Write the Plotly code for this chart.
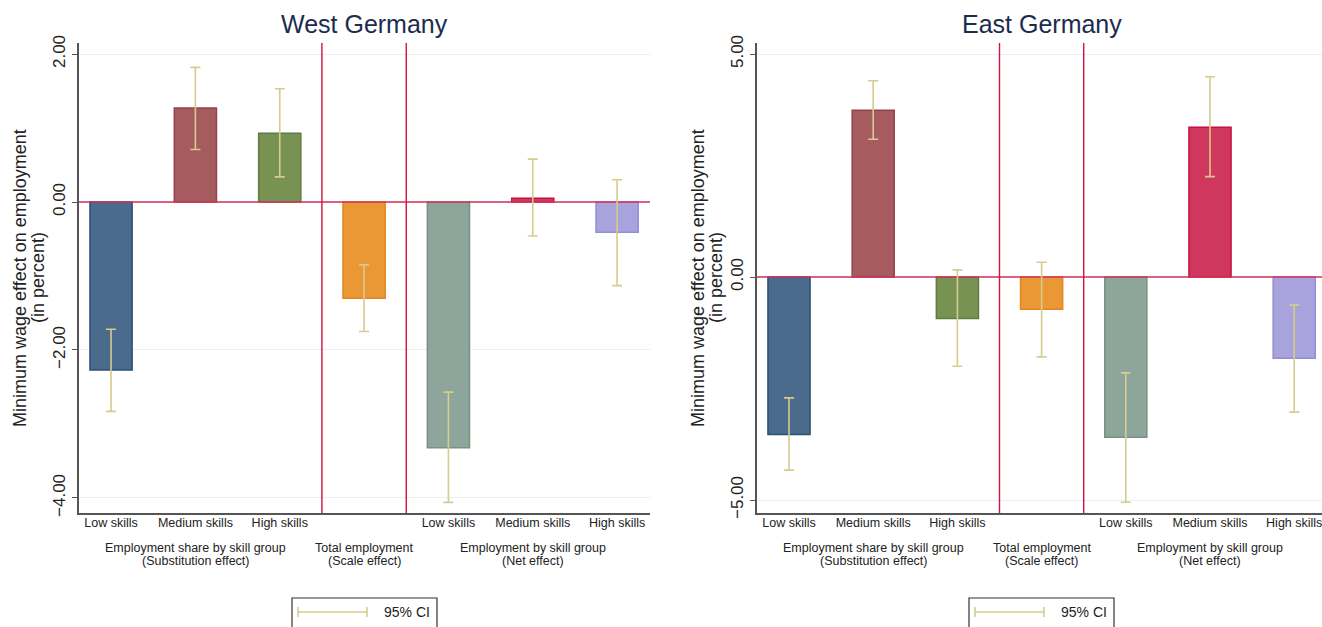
import plotly.graph_objects as go

# ---------------- data ----------------
positions = [1, 2, 3, 4, 5, 6, 7]
tick_labels = ["Low skills", "Medium skills", "High skills", "",
               "Low skills", "Medium skills", "High skills"]
group_pos = [2, 4, 6]
group_titles = ["Employment share by skill group", "Total employment", "Employment by skill group"]
group_subtitles = ["(Substitution effect)", "(Scale effect)", "(Net effect)"]
divider_pos = [3.5, 4.5]
y_title_lines = ["Minimum wage effect on employment", "(in percent)"]

west_effect = [-2.27, 1.27, 0.93, -1.30, -3.32, 0.05, -0.41]
west_ci_low = [-2.83, 0.71, 0.34, -1.75, -4.06, -0.46, -1.13]
west_ci_high = [-1.72, 1.82, 1.53, -0.85, -2.57, 0.58, 0.30]

east_effect = [-3.53, 3.74, -0.93, -0.72, -3.59, 3.36, -1.82]
east_ci_low = [-4.33, 3.09, -2.00, -1.79, -5.05, 2.25, -3.03]
east_ci_high = [-2.71, 4.40, 0.16, 0.33, -2.15, 4.49, -0.63]

west_ticks = [-4, -2, 0, 2]
east_ticks = [-5, 0, 5]

bar_fill = ["#4A6B8B", "#A65B5F", "#789254", "#EA9836", "#8DA59A", "#CF375C", "#A8A3DC"]
bar_line = ["#2C5076", "#94434A", "#5F7B3D", "#E3861C", "#77927F", "#C8103E", "#958DD4"]
ci_color = "#D5CC8E"
font_family = "Liberation Sans, Arial, sans-serif"

W, H = 1322, 627


def px_x(p):
    return p / W


def px_y(p):
    return 1 - p / H


panels = [
    dict(name="West Germany", eff=west_effect, lo=west_ci_low, hi=west_ci_high,
         xr=[0.62, 7.39], yr=[-4.203, 2.149], ticks=west_ticks,
         dom=[px_x(79), px_x(650)], xa="x", ya="y", legend_px=(292, 437), title_px=(20, 38)),
    dict(name="East Germany", eff=east_effect, lo=east_ci_low, hi=east_ci_high,
         xr=[0.62, 7.33], yr=[-5.291, 5.247], ticks=east_ticks,
         dom=[px_x(757), 1.0], xa="x2", ya="y2", legend_px=(969, 1114), title_px=(698, 716)),
]

fig = go.Figure()
shapes = []
annotations = []
ydom = [px_y(513), px_y(43)]

for i, p in enumerate(panels):
    fig.add_trace(go.Bar(
        x=positions, y=p["eff"], width=0.5,
        marker=dict(color=bar_fill, line=dict(color=bar_line, width=1.5)),
        xaxis=p["xa"], yaxis=p["ya"], showlegend=False, hoverinfo="skip"))
    # zero reference line across the axis range
    fig.add_trace(go.Scatter(
        x=p["xr"], y=[0, 0], mode="lines", line=dict(color="#D0325A", width=1.6),
        xaxis=p["xa"], yaxis=p["ya"], showlegend=False, hoverinfo="skip"))
    # 95% CI
    err_plus = [h - e for h, e in zip(p["hi"], p["eff"])]
    err_minus = [e - l for e, l in zip(p["eff"], p["lo"])]
    fig.add_trace(go.Scatter(
        x=positions, y=p["eff"], mode="markers",
        marker=dict(size=1, color="rgba(0,0,0,0)"),
        error_y=dict(type="data", symmetric=False, array=err_plus, arrayminus=err_minus,
                     color=ci_color, thickness=1.6, width=5),
        xaxis=p["xa"], yaxis=p["ya"], showlegend=False, hoverinfo="skip"))

    for d in divider_pos:
        shapes.append(dict(type="line", xref=p["xa"], yref=p["ya"] + " domain",
                           x0=d, x1=d, y0=0, y1=1,
                           line=dict(color="#D2123F", width=1.4), layer="above"))

    annotations.append(dict(text=p["name"], xref=p["xa"], yref="paper", x=4, y=px_y(24),
                             xanchor="center", yanchor="middle", showarrow=False,
                             font=dict(size=25, color="#1C2C4E", family=font_family)))
    for gx, gt, gs in zip(group_pos, group_titles, group_subtitles):
        annotations.append(dict(text=gt, xref=p["xa"], yref="paper", x=gx, y=px_y(548),
                                xanchor="center", yanchor="middle", showarrow=False,
                                font=dict(size=12.5, color="#222", family=font_family)))
        annotations.append(dict(text=gs, xref=p["xa"], yref="paper", x=gx, y=px_y(560.5),
                                xanchor="center", yanchor="middle", showarrow=False,
                                font=dict(size=12.5, color="#222", family=font_family)))

    # y-axis title (two tightly spaced lines)
    for tx, tl in zip(p["title_px"], y_title_lines):
        annotations.append(dict(text=tl, xref="paper", yref=p["ya"] + " domain",
                                x=px_x(tx), y=0.5, textangle=-90,
                                xanchor="center", yanchor="middle", showarrow=False,
                                font=dict(size=18, color="#222", family=font_family)))

    # legend box (drawn)
    lx0, lx1 = p["legend_px"]
    shapes.append(dict(type="rect", xref="paper", yref="paper",
                       x0=px_x(lx0), x1=px_x(lx1), y0=px_y(640), y1=px_y(598),
                       line=dict(color="#333", width=1.2), fillcolor="white"))
    ly = px_y(612)
    shapes.append(dict(type="line", xref="paper", yref="paper",
                       x0=px_x(lx0 + 6), x1=px_x(lx0 + 75), y0=ly, y1=ly,
                       line=dict(color=ci_color, width=1.6)))
    for cx in (lx0 + 6, lx0 + 75):
        shapes.append(dict(type="line", xref="paper", yref="paper",
                           x0=px_x(cx), x1=px_x(cx), y0=px_y(607), y1=px_y(617),
                           line=dict(color=ci_color, width=1.6)))
    annotations.append(dict(text="95% CI", xref="paper", yref="paper", x=px_x(lx0 + 90), y=ly,
                            xanchor="left", yanchor="middle", showarrow=False,
                            font=dict(size=14, color="#222", family=font_family)))

    xkey = "xaxis" if i == 0 else "xaxis2"
    ykey = "yaxis" if i == 0 else "yaxis2"
    fig.update_layout(**{
        xkey: dict(domain=p["dom"], range=p["xr"], anchor=p["ya"], automargin=False,
                   tickvals=positions, ticktext=tick_labels, ticks="",
                   ticklabeloverflow="allow", ticklabelstandoff=-3,
                   showline=True, linecolor="#555", linewidth=1.5,
                   showgrid=False, zeroline=False,
                   tickfont=dict(size=12.5, color="#222", family=font_family)),
        ykey: dict(domain=ydom, range=p["yr"], anchor=p["xa"], automargin=False,
                   tickvals=p["ticks"], tickformat=".2f", tickangle=-90,
                   ticks="outside", ticklen=5, tickcolor="#555", tickwidth=1.2,
                   showline=True, linecolor="#555", linewidth=1.5,
                   showgrid=True, gridcolor="#EAF1F3", gridwidth=1, zeroline=False,
                   tickfont=dict(size=17, color="#222", family=font_family)),
    })

fig.update_layout(
    width=W, height=H,
    margin=dict(l=0, r=0, t=0, b=0, autoexpand=False),
    paper_bgcolor="white", plot_bgcolor="white",
    shapes=shapes, annotations=annotations,
    showlegend=False,
    font=dict(family=font_family),
)

fig.write_html("out.html",
               config={"displayModeBar": False},
               post_script="document.body.style.margin='0px';document.body.style.overflow='hidden';")
